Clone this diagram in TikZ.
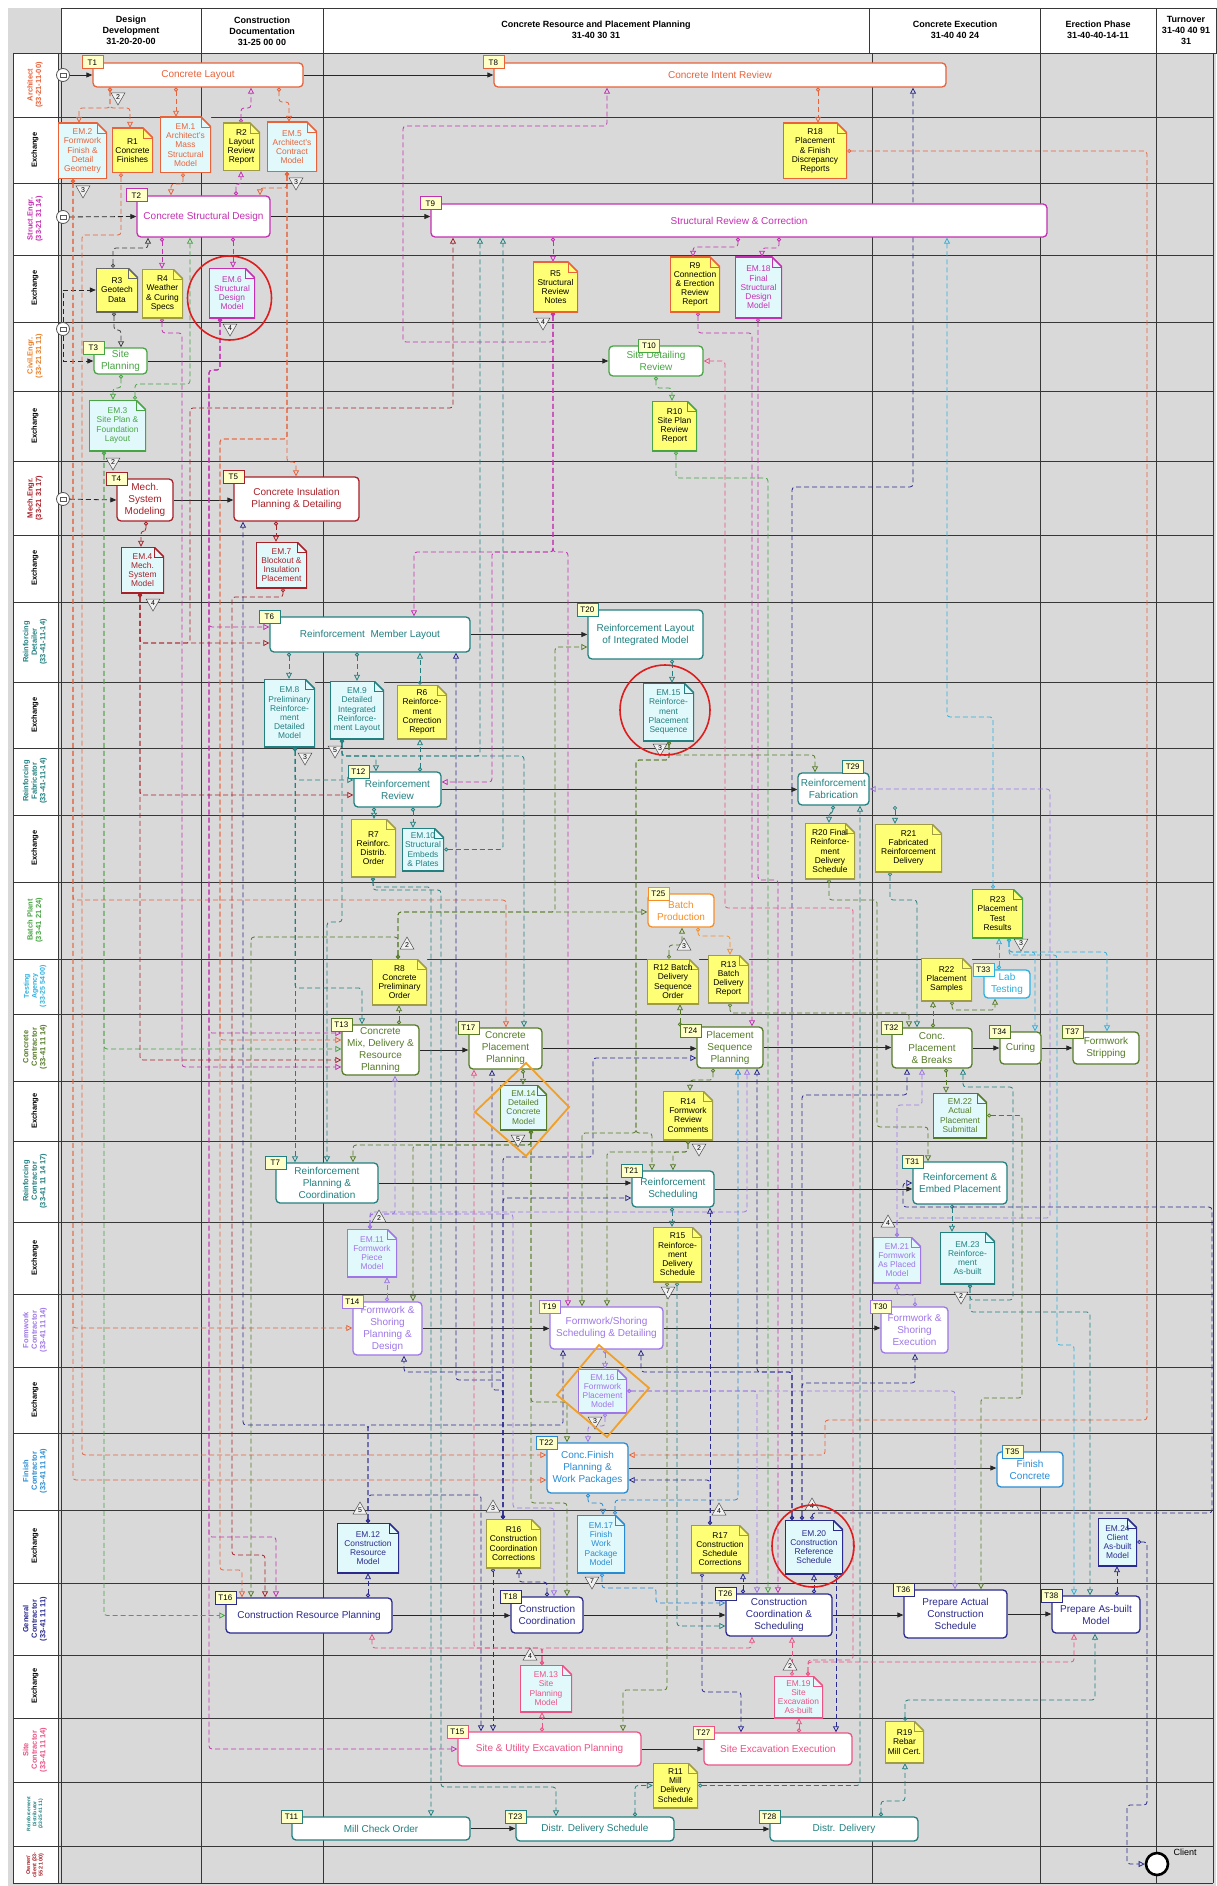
\documentclass[tikz,border=0pt]{standalone}
\usepackage{fontspec}
\setmainfont{Liberation Sans}
\usetikzlibrary{arrows.meta,shapes.geometric}
\pgfdeclarelayer{bg}
\pgfdeclarelayer{lines}
\pgfsetlayers{bg,lines,main}
\definecolor{lanebg}{RGB}{217,217,217}
\definecolor{gridc}{RGB}{55,55,55}
\definecolor{archc}{RGB}{232,98,58}
\definecolor{strc}{RGB}{196,48,178}
\definecolor{civc}{RGB}{72,165,68}
\definecolor{civlab}{RGB}{232,128,40}
\definecolor{mechc}{RGB}{168,32,40}
\definecolor{reic}{RGB}{34,128,128}
\definecolor{batc}{RGB}{245,142,40}
\definecolor{tstc}{RGB}{44,176,222}
\definecolor{conc}{RGB}{86,124,40}
\definecolor{frmc}{RGB}{158,118,232}
\definecolor{finc}{RGB}{40,140,212}
\definecolor{genc}{RGB}{42,42,142}
\definecolor{sitc}{RGB}{236,82,132}
\definecolor{docfill}{RGB}{226,249,252}
\definecolor{yelfill}{RGB}{255,255,118}
\definecolor{tagfill}{RGB}{255,255,200}
\definecolor{rline}{RGB}{160,156,70}
\definecolor{hlred}{RGB}{222,30,30}
\definecolor{hlorange}{RGB}{240,160,40}
\tikzset{
  task/.style={draw=#1, text=#1, fill=white, rounded corners=4pt, line width=1.3pt,
    align=center, inner sep=1pt, font=\fontsize{10}{12}\selectfont},
  tag/.style={draw=#1, fill=tagfill, text=black, line width=0.7pt, inner sep=0pt,
    minimum width=21pt, minimum height=13pt, font=\fontsize{8}{8}\selectfont},
  docshape/.style={rectangle, inner sep=1pt, align=center, font=\fontsize{8.4}{9.2}\selectfont,
    path picture={
      \fill[lanebg] ([xshift=-10pt]path picture bounding box.north east) -- (path picture bounding box.north east) -- ([yshift=-10pt]path picture bounding box.north east) -- cycle;
      \draw[#1, line width=1.6pt] (path picture bounding box.south west) -- (path picture bounding box.north west) -- ([xshift=-10pt]path picture bounding box.north east) -- ([yshift=-10pt]path picture bounding box.north east) -- (path picture bounding box.south east) -- cycle;
      \draw[#1, line width=0.8pt] ([xshift=-10pt]path picture bounding box.north east) |- ([yshift=-10pt]path picture bounding box.north east);
    }},
  em/.style={docshape=#1, fill=docfill, text=#1},
  rep/.style={docshape=#1, fill=yelfill, text=black},
  lanelab/.style={rotate=90, align=center, font=\bfseries\fontsize{7.5}{8.5}\selectfont},
  head/.style={align=center, font=\bfseries\fontsize{9}{11}\selectfont},
  startev/.style={circle, draw=black!65, fill=white, line width=0.8pt, minimum size=13pt, inner sep=0pt,
    path picture={\draw[black!65] ([xshift=-3pt,yshift=-2pt]path picture bounding box.center) rectangle ([xshift=3pt,yshift=2pt]path picture bounding box.center);}},
  endev/.style={circle, draw=black, fill=white, line width=2.6pt, minimum size=22pt, inner sep=0pt},
  mku/.style={regular polygon, regular polygon sides=3, draw=black!70, fill=black!6, line width=0.5pt,
    minimum size=16pt, inner sep=0pt, font=\fontsize{7}{7}\selectfont},
  mkd/.style={mku, shape border rotate=180},
  seq/.style={draw=black!85, line width=0.8pt, -{Triangle[length=6pt,width=5pt]}},
  seqd/.style={seq, dash pattern=on 5pt off 3pt},
  msg/.style={draw=#1, line width=0.8pt, dash pattern=on 5pt off 3pt, rounded corners=3pt,
    {Circle[open,length=4pt,width=4pt]}-{Triangle[open,length=6pt,width=6pt]}},
  grid/.style={draw=gridc, line width=0.8pt},
  hl/.style={draw=hlred, line width=1.6pt},
  hd/.style={draw=hlorange, line width=1.8pt}
}
\begin{document}
\begin{tikzpicture}[x=1pt,y=-1pt]
\useasboundingbox (0,0) rectangle (1217,1886);
\begin{pgfonlayer}{bg}
\fill[lanebg] (8,8) rectangle (1216,1886);
\fill[white] (13,53) rectangle (58,1883);
\filldraw[grid, fill=white] (61,8) rectangle (201,53) (201,8) rectangle (323,53) (323,8) rectangle (869,53)
  (869,8) rectangle (1040,53) (1040,8) rectangle (1156,53) (1156,8) rectangle (1216,53);
\draw[grid] (13,53) -- (1213,53) (13,117) -- (1213,117) (13,183) -- (1213,183) (13,255) -- (1213,255)
  (13,322) -- (1213,322) (13,391) -- (1213,391) (13,461) -- (1213,461) (13,535) -- (1213,535)
  (13,602) -- (1213,602) (13,682) -- (1213,682) (13,748) -- (1213,748) (13,815) -- (1213,815)
  (13,882) -- (1213,882) (13,959) -- (1213,959) (13,1014) -- (1213,1014) (13,1081) -- (1213,1081)
  (13,1141) -- (1213,1141) (13,1222) -- (1213,1222) (13,1294) -- (1213,1294) (13,1367) -- (1213,1367)
  (13,1433) -- (1213,1433) (13,1510) -- (1213,1510) (13,1583) -- (1213,1583) (13,1655) -- (1213,1655)
  (13,1718) -- (1213,1718) (13,1782) -- (1213,1782) (13,1846) -- (1213,1846) (13,1883) -- (1213,1883);
\draw[grid] (13,53) -- (13,1883) (58,53) -- (58,1883) (61,53) -- (61,1883) (201,53) -- (201,1883)
  (323,53) -- (323,1883) (872,53) -- (872,1883) (1040,53) -- (1040,1883) (1156,53) -- (1156,1883)
  (1213,53) -- (1213,1883);
\end{pgfonlayer}

\node[head] (h1) at (131,30) {Design\\Development\\31-20-20-00};
\node[head] (h2) at (262,31) {Construction\\Documentation\\31-25 00 00};
\node[head] (h3) at (596,30) {Concrete Resource and Placement Planning\\31-40 30 31};
\node[head] (h4) at (955,30) {Concrete Execution\\31-40 40 24};
\node[head] (h5) at (1098,30) {Erection Phase\\31-40-40-14-11};
\node[head] (h6) at (1186,30) {Turnover\\31-40 40 91\\31};

\node[lanelab, text=archc] (ln1) at (35,85) {Architect\\(33-21-11-00)};
\node[lanelab] (ln2) at (35,150) {Exchange};
\node[lanelab, text=strc] (ln3) at (35,219) {Struct.Engr.\\(33-21 31 14)};
\node[lanelab] (ln4) at (35,288) {Exchange};
\node[lanelab, text=civlab] (ln5) at (35,356) {Civil.Engr.\\(33-21 31 11)};
\node[lanelab] (ln6) at (35,426) {Exchange};
\node[lanelab, text=mechc] (ln7) at (35,498) {Mech.Engr.\\(33-21 31 17)};
\node[lanelab] (ln8) at (35,568) {Exchange};
\node[lanelab, text=reic] (ln9) at (35,642) {Reinforcing\\Detailer\\(33-41-11-14)};
\node[lanelab] (ln10) at (35,715) {Exchange};
\node[lanelab, text=reic] (ln11) at (35,781) {Reinforcing\\Fabricator\\(33-41-11-14)};
\node[lanelab] (ln12) at (35,848) {Exchange};
\node[lanelab, text=civc] (ln13) at (35,920) {Batch Plant\\(33-41 21 24)};
\node[lanelab, text=tstc, font=\bfseries\fontsize{7}{8}\selectfont] (ln14) at (35,986) {Testing\\Agency\\(33-25 54 00)};
\node[lanelab, text=conc] (ln15) at (35,1047) {Concrete\\Contractor\\(33-41 11 14)};
\node[lanelab] (ln16) at (35,1111) {Exchange};
\node[lanelab, text=reic] (ln17) at (35,1181) {Reinforcing\\Contractor\\(33-41 11 14 17)};
\node[lanelab] (ln18) at (35,1258) {Exchange};
\node[lanelab, text=frmc] (ln19) at (35,1330) {Formwork\\Contractor\\(33-41 11 14)};
\node[lanelab] (ln20) at (35,1400) {Exchange};
\node[lanelab, text=finc] (ln21) at (35,1471) {Finish\\Contractor\\(33-41 11 14)};
\node[lanelab] (ln22) at (35,1546) {Exchange};
\node[lanelab, text=genc] (ln23) at (35,1619) {General\\Contractor\\(33-41 11 11)};
\node[lanelab] (ln24) at (35,1686) {Exchange};
\node[lanelab, text=sitc] (ln25) at (35,1750) {Site\\Contractor\\(33-41 11 14)};
\node[lanelab, text=reic, font=\bfseries\fontsize{5}{5.8}\selectfont] (ln26) at (35,1814) {Reinforcement\\Distributor\\(33-25 41 11)};
\node[lanelab, text=mechc, font=\bfseries\fontsize{5.5}{6.3}\selectfont] (ln27) at (35,1865) {Owner/\\client (33-\\55 21 00)};

\node[task=archc, minimum width=210, minimum height=24] (t1) at (198,75) {Concrete Layout};
\node[task=archc, minimum width=452, minimum height=24] (t8) at (720,75) {Concrete Intent Review};
\node[task=strc, minimum width=133, minimum height=41] (t2) at (203.5,216.5) {Concrete Structural Design};
\node[task=strc, minimum width=616, minimum height=33] (t9) at (739,220.5) {Structural Review \& Correction};
\node[task=civc, minimum width=53, minimum height=26] (t3) at (120.5,361) {Site\\Planning};
\node[task=civc, minimum width=94, minimum height=30] (t10) at (656,361) {Site Detailing\\Review};
\node[task=mechc, minimum width=56, minimum height=42] (t4) at (145,500) {Mech.\\System\\Modeling};
\node[task=mechc, minimum width=125, minimum height=44] (t5) at (296.5,499) {Concrete Insulation\\Planning \& Detailing};
\node[task=reic, minimum width=200, minimum height=35] (t6) at (370,634.5) {Reinforcement\ \ Member Layout};
\node[task=reic, minimum width=115, minimum height=49] (t20) at (645.5,634.5) {Reinforcement Layout\\of Integrated Model};
\node[task=reic, minimum width=87, minimum height=35] (t12) at (397.5,789.5) {Reinforcement\\Review};
\node[task=reic, minimum width=71, minimum height=32] (t29) at (833.5,789) {Reinforcement\\Fabrication};
\node[task=batc, minimum width=66, minimum height=33] (t25) at (681,910.5) {Batch\\Production};
\node[task=tstc, minimum width=46, minimum height=28] (t33) at (1007,984) {Lab\\Testing};
\node[task=conc, minimum width=77, minimum height=50] (t13) at (380.5,1050) {Concrete\\Mix, Delivery \&\\Resource\\Planning};
\node[task=conc, minimum width=73, minimum height=41] (t17) at (505.5,1048.5) {Concrete\\Placement\\Planning};
\node[task=conc, minimum width=66, minimum height=41] (t24) at (730,1047.5) {Placement\\Sequence\\Planning};
\node[task=conc, minimum width=80, minimum height=40] (t32) at (932,1048) {Conc.\\Placement\\\& Breaks};
\node[task=conc, minimum width=41, minimum height=32] (t34) at (1020.5,1048) {Curing};
\node[task=conc, minimum width=66, minimum height=32] (t37) at (1106,1048) {Formwork\\Stripping};
\node[task=reic, minimum width=102, minimum height=40] (t7) at (327,1183) {Reinforcement\\Planning \&\\Coordination};
\node[task=reic, minimum width=82, minimum height=36] (t21) at (673,1189) {Reinforcement\\Scheduling};
\node[task=reic, minimum width=94, minimum height=42] (t31) at (960,1183) {Reinforcement \&\\Embed Placement};
\node[task=frmc, minimum width=69, minimum height=53] (t14) at (387.5,1328.5) {Formwork \&\\Shoring\\Planning \&\\Design};
\node[task=frmc, minimum width=113, minimum height=42] (t19) at (606.5,1328) {Formwork/Shoring\\Scheduling \& Detailing};
\node[task=frmc, minimum width=67, minimum height=46] (t30) at (914.5,1330) {Formwork \&\\Shoring\\Execution};
\node[task=finc, minimum width=81, minimum height=50] (t22) at (587.5,1468) {Conc.Finish\\Planning \&\\Work Packages};
\node[task=finc, minimum width=66, minimum height=35] (t35) at (1030,1469.5) {Finish\\Concrete};
\node[task=genc, minimum width=166, minimum height=35] (t16) at (309,1615.5) {Construction Resource Planning};
\node[task=genc, minimum width=72, minimum height=36] (t18) at (547,1615) {Construction\\Coordination};
\node[task=genc, minimum width=106, minimum height=42] (t26) at (779,1615) {Construction\\Coordination \&\\Scheduling};
\node[task=genc, minimum width=103, minimum height=48] (t36) at (955.5,1614) {Prepare Actual\\Construction\\Schedule};
\node[task=genc, minimum width=88, minimum height=37] (t38) at (1096,1614.5) {Prepare As-built\\Model};
\node[task=sitc, minimum width=183, minimum height=34] (t15) at (549.5,1749) {Site \& Utility Excavation Planning};
\node[task=sitc, minimum width=148, minimum height=32] (t27) at (778,1749) {Site Excavation Execution};
\node[task=reic, minimum width=178, minimum height=23] (t11) at (381,1828.5) {Mill Check Order};
\node[task=reic, minimum width=158, minimum height=24] (t23) at (595,1829) {Distr. Delivery Schedule};
\node[task=reic, minimum width=148, minimum height=24] (t28) at (844,1829) {Distr. Delivery};

\node[tag=archc] (t1n) at (t1.north west) {T1};
\node[tag=archc] (t8n) at (t8.north west) {T8};
\node[tag=strc] (t2n) at (t2.north west) {T2};
\node[tag=strc] (t9n) at (t9.north west) {T9};
\node[tag=civc] (t3n) at (t3.north west) {T3};
\node[tag=civc] (t10n) at ([xshift=-7pt]t10.north) {T10};
\node[tag=mechc] (t4n) at (t4.north west) {T4};
\node[tag=mechc] (t5n) at (t5.north west) {T5};
\node[tag=reic] (t6n) at (t6.north west) {T6};
\node[tag=reic] (t20n) at (t20.north west) {T20};
\node[tag=reic] (t12n) at ([xshift=5pt]t12.north west) {T12};
\node[tag=reic] (t29n) at ([xshift=-17pt,yshift=6pt]t29.north east) {T29};
\node[tag=batc] (t25n) at ([xshift=11pt]t25.north west) {T25};
\node[tag=tstc] (t33n) at (t33.north west) {T33};
\node[tag=conc] (t13n) at (t13.north west) {T13};
\node[tag=conc] (t17n) at (t17.north west) {T17};
\node[tag=conc] (t24n) at ([xshift=-6pt,yshift=-4pt]t24.north west) {T24};
\node[tag=conc] (t32n) at (t32.north west) {T32};
\node[tag=conc] (t34n) at (t34.north west) {T34};
\node[tag=conc] (t37n) at (t37.north west) {T37};
\node[tag=reic] (t7n) at (t7.north west) {T7};
\node[tag=reic] (t21n) at (t21.north west) {T21};
\node[tag=reic] (t31n) at (t31.north west) {T31};
\node[tag=frmc] (t14n) at (t14.north west) {T14};
\node[tag=frmc] (t19n) at (t19.north west) {T19};
\node[tag=frmc] (t30n) at (t30.north west) {T30};
\node[tag=finc] (t22n) at (t22.north west) {T22};
\node[tag=finc] (t35n) at ([xshift=16pt]t35.north west) {T35};
\node[tag=genc] (t16n) at (t16.north west) {T16};
\node[tag=genc] (t18n) at (t18.north west) {T18};
\node[tag=genc] (t26n) at (t26.north west) {T26};
\node[tag=genc] (t36n) at (t36.north west) {T36};
\node[tag=genc] (t38n) at (t38.north west) {T38};
\node[tag=sitc] (t15n) at (t15.north west) {T15};
\node[tag=sitc] (t27n) at (t27.north west) {T27};
\node[tag=reic] (t11n) at (t11.north west) {T11};
\node[tag=reic] (t23n) at (t23.north west) {T23};
\node[tag=reic] (t28n) at (t28.north west) {T28};

\node[em=archc, minimum width=49, minimum height=56] (em2) at (82.5,151) {EM.2\\Formwork\\Finish \&\\Detail\\Geometry};
\node[rep=archc, minimum width=41, minimum height=45] (r1) at (132.5,150.5) {R1\\Concrete\\Finishes};
\node[em=archc, minimum width=51, minimum height=56] (em1) at (185.5,145) {EM.1\\Architect's\\Mass\\Structural\\Model};
\node[rep=rline, minimum width=37, minimum height=48] (r2) at (241.5,147) {R2\\Layout\\Review\\Report};
\node[em=archc, minimum width=50, minimum height=50] (em5) at (292,147) {EM.5\\Architect's\\Contract\\Model};
\node[rep=archc, minimum width=64, minimum height=56] (r18) at (815,151) {R18\\Placement\\\& Finish\\Discrepancy\\Reports};
\node[rep=black!60, minimum width=42, minimum height=44] (r3) at (117,290) {R3\\Geotech\\Data};
\node[rep=rline, minimum width=41, minimum height=49] (r4) at (162.5,293.5) {R4\\Weather\\\& Curing\\Specs};
\node[em=strc, minimum width=46, minimum height=50] (em6) at (232,293) {EM.6\\Structural\\Design\\Model};
\node[rep=archc, minimum width=45, minimum height=50] (r5) at (555.5,287) {R5\\Structural\\Review\\Notes};
\node[rep=archc, minimum width=50, minimum height=55] (r9) at (695,284.5) {R9\\Connection\\\& Erection\\Review\\Report};
\node[em=strc, minimum width=47, minimum height=61] (em18) at (758.5,287.5) {EM.18\\Final\\Structural\\Design\\Model};
\node[em=civc, minimum width=57, minimum height=51] (em3) at (117.5,425.5) {EM.3\\Site Plan \&\\Foundation\\Layout};
\node[rep=civc, minimum width=45, minimum height=50] (r10) at (674.5,426) {R10\\Site Plan\\Review\\Report};
\node[em=mechc, minimum width=43, minimum height=46] (em4) at (142.5,570) {EM.4\\Mech.\\System\\Model};
\node[em=mechc, minimum width=51, minimum height=46] (em7) at (281.5,565) {EM.7\\Blockout \&\\Insulation\\Placement};
\node[em=reic, minimum width=51, minimum height=68] (em8) at (289.5,713) {EM.8\\Preliminary\\Reinforce-\\ment\\Detailed\\Model};
\node[em=reic, minimum width=54, minimum height=58] (em9) at (357,710) {EM.9\\Detailed\\Integrated\\Reinforce-\\ment Layout};
\node[rep=rline, minimum width=50, minimum height=54] (r6) at (422,712) {R6\\Reinforce-\\ment\\Correction\\Report};
\node[em=reic, minimum width=51, minimum height=58] (em15) at (668.5,712) {EM.15\\Reinforce-\\ment\\Placement\\Sequence};
\node[rep=rline, minimum width=45, minimum height=58] (r7) at (373.5,848) {R7\\Reinforc.\\Distrib.\\Order};
\node[em=reic, minimum width=42, minimum height=43] (em10) at (423,849.5) {EM.10\\Structural\\Embeds\\\& Plates};
\node[rep=rline, minimum width=50, minimum height=56] (r20) at (830,851) {R20 Final\\Reinforce-\\ment\\Delivery\\Schedule};
\node[rep=rline, minimum width=67, minimum height=48] (r21) at (908.5,848) {R21\\Fabricated\\Reinforcement\\Delivery};
\node[rep=civc, minimum width=51, minimum height=49] (r23) at (997.5,913.5) {R23\\Placement\\Test\\Results};
\node[rep=rline, minimum width=55, minimum height=46] (r8) at (399.5,982) {R8\\Concrete\\Preliminary\\Order};
\node[rep=rline, minimum width=52, minimum height=45] (r12) at (673,981.5) {R12 Batch\\Delivery\\Sequence\\Order};
\node[rep=rline, minimum width=41, minimum height=48] (r13) at (728.5,979) {R13\\Batch\\Delivery\\Report};
\node[rep=rline, minimum width=51, minimum height=43] (r22) at (946.5,979.5) {R22\\Placement\\Samples};
\node[em=conc, minimum width=47, minimum height=45] (em14) at (523.5,1107.5) {EM.14\\Detailed\\Concrete\\Model};
\node[rep=rline, minimum width=50, minimum height=49] (r14) at (688,1115.5) {R14\\Formwork\\Review\\Comments};
\node[em=conc, minimum width=54, minimum height=45] (em22) at (960,1115.5) {EM.22\\Actual\\Placement\\Submittal};
\node[em=frmc, minimum width=50, minimum height=48] (em11) at (372,1253) {EM.11\\Formwork\\Piece\\Model};
\node[rep=rline, minimum width=49, minimum height=55] (r15) at (677.5,1254.5) {R15\\Reinforce-\\ment\\Delivery\\Schedule};
\node[em=frmc, minimum width=48, minimum height=46] (em21) at (897,1260) {EM.21\\Formwork\\As Placed\\Model};
\node[em=reic, minimum width=55, minimum height=52] (em23) at (967.5,1258) {EM.23\\Reinforce-\\ment\\As-built};
\node[em=frmc, minimum width=49, minimum height=44] (em16) at (602.5,1391) {EM.16\\Formwork\\Placement\\Model};
\node[em=genc, minimum width=62, minimum height=50] (em12) at (368,1548) {EM.12\\Construction\\Resource\\Model};
\node[rep=rline, minimum width=55, minimum height=49] (r16) at (513.5,1543.5) {R16\\Construction\\Coordination\\Corrections};
\node[em=finc, minimum width=48, minimum height=58] (em17) at (601,1544) {EM.17\\Finish\\Work\\Package\\Model};
\node[rep=rline, minimum width=58, minimum height=48] (r17) at (720,1549) {R17\\Construction\\Schedule\\Corrections};
\node[em=genc, minimum width=58, minimum height=54] (em20) at (814,1547) {EM.20\\Construction\\Reference\\Schedule};
\node[em=genc, minimum width=39, minimum height=48] (em24) at (1117.5,1542) {EM.24\\Client\\As-built\\Model};
\node[em=sitc, minimum width=52, minimum height=47] (em13) at (546,1688.5) {EM.13\\Site\\Planning\\Model};
\node[em=sitc, minimum width=49, minimum height=42] (em19) at (798.5,1697) {EM.19\\Site\\Excavation\\As-built};
\node[rep=rline, minimum width=39, minimum height=42] (r19) at (904.5,1742) {R19\\Rebar\\Mill Cert.};
\node[rep=rline, minimum width=45, minimum height=45] (r11) at (675.5,1785.5) {R11\\Mill\\Delivery\\Schedule};

\node[startev] (s1) at (63,75) {};
\node[startev] (s2) at (63,217) {};
\node[startev] (s3) at (63,329) {};
\node[startev] (s4) at (63,499) {};
\node[endev] (client) at (1157,1864) {};
\node[font=\fontsize{9}{9}\selectfont] (clientlab) at (1185,1852) {Client};
\coordinate (r21in) at (895,806);

\node[mkd] (m1) at (118,97) {2};
\node[mkd] (m2) at (83,190) {3};
\node[mkd] (m3) at (296,182) {3};
\node[mkd] (m4) at (230,328) {4};
\node[mkd] (m5) at (543,322) {4};
\node[mkd] (m6) at (113,462) {2};
\node[mkd] (m7) at (153,603) {4};
\node[mkd] (m8) at (305,757) {3};
\node[mkd] (m9) at (335,750) {5};
\node[mkd] (m10) at (660,748) {3};
\node[mku] (m11) at (407,945) {2};
\node[mku] (m12) at (684,946) {3};
\node[mkd] (m13) at (1021,943) {3};
\node[mkd] (m14) at (518,1139) {5};
\node[mkd] (m15) at (699,1148) {2};
\node[mku] (m16) at (379,1218) {2};
\node[mkd] (m17) at (668,1291) {7};
\node[mku] (m18) at (888,1223) {4};
\node[mkd] (m19) at (961,1296) {2};
\node[mkd] (m20) at (595,1421) {3};
\node[mku] (m21) at (360,1510) {5};
\node[mku] (m22) at (493,1508) {3};
\node[mkd] (m23) at (592,1581) {7};
\node[mku] (m24) at (719,1511) {4};
\node[mku] (m25) at (812,1506) {4};
\node[mku] (m26) at (530,1656) {4};
\node[mku] (m27) at (790,1666) {2};

\begin{pgfonlayer}{lines}
\draw[seq] (s1) -- (t1.west);
\draw[seq] (t1.east) -- (t8.west);
\draw[seq] (t2.east) -- (t2.east -| t9.west);
\draw[seq] (t3.east) -- (t10.west);
\draw[seq] (t4.east) -- (t4.east -| t5.west);
\draw[seq] (t6.east) -- (t20.west);
\draw[seq] (t12.east) -- (t12.east -| t29.west);
\draw[seq] (t13.east) -- (t13.east -| t17.west);
\draw[seq] (t17.east) -- (t17.east -| t24.west);
\draw[seq] (t24.east) -- (t24.east -| t32.west);
\draw[seq] (t32.east) -- (t34.west);
\draw[seq] (t34.east) -- (t37.west);
\draw[seq] (t7.east) -- (t7.east -| t21.west);
\draw[seq] (t21.east) -- (t21.east -| t31.west);
\draw[seq] (t14.east) -- (t14.east -| t19.west);
\draw[seq] (t19.east) -- (t19.east -| t30.west);
\draw[seq] (t22.east) -- (t22.east -| t35.west);
\draw[seq] (t16.east) -- (t16.east -| t18.west);
\draw[seq] (t18.east) -- (t18.east -| t26.west);
\draw[seq] (t26.east) -- (t26.east -| t36.west);
\draw[seq] (t36.east) -- (t36.east -| t38.west);
\draw[seq] (t15.east) -- (t15.east -| t27.west);
\draw[seq] (t11.east) -- (t11.east -| t23.west);
\draw[seq] (t23.east) -- (t23.east -| t28.west);
\draw[seqd] (s2) -- (t2.west);
\draw[seqd] (s3) |- (t3.west);
\draw[seqd] (s3) |- (r3.west);
\draw[seqd] (s4) -- (t4.west);
\draw[msg=black!75] (113,0 |- r3.north) |- (148,248) -- (148,0 |- t2.south);
\draw[msg=black!75] (114,0 |- r3.south) |- (121,330) -- (121,0 |- t3.north);

\draw[msg=archc] (110,0 |- t1.south) |- (79,108) -- (79,0 |- em2.north);
\draw[msg=archc] (110,0 |- t1.south) |- (130,108) -- (130,0 |- r1.north);
\draw[msg=archc] (176,0 |- t1.south) -- (176,0 |- em1.north);
\draw[msg=archc] (279,0 |- t1.south) |- (289,102) -- (289,0 |- em5.north);
\draw[msg=archc] (818,0 |- t8.south) -- (818,0 |- r18.north);
\draw[msg=archc] (183,0 |- em1.south) |- (171,184) -- (171,0 |- t2.north);
\draw[msg=archc] (287,0 |- em5.south) |- (260,188) -- (260,0 |- t2.north);
\draw[msg=archc] (287,0 |- em5.south) -- (287,462) -| (296,0 |- t5.north);
\draw[msg=archc] (287,0 |- em5.south) |- (220,439) -- (220,1570) -| (242,0 |- t16.north);
\draw[msg=archc] (287,0 |- em5.south) |- (220,439) |- (t13.west |- 0,1040);
\draw[msg=archc] (r18.east) -| (1147,1420) -| (825,1455) -- (t22.east |- 0,1455);
\draw[msg=archc] (73,0 |- em2.south) -- (73,1480) -- (t22.west |- 0,1480);
\draw[msg=archc] (73,0 |- em2.south) |- (t14.west |- 0,1328);
\draw[msg=archc] (73,0 |- em2.south) |- (506,900) -- (506,0 |- t17.north);
\draw[msg=archc] (121,0 |- r1.south) |- (82,235) -- (82,1455) -- (t22.west |- 0,1455);

\draw[msg=strc] (241,0 |- r2.north) |- (251,108) -- (251,0 |- t1.south);
\draw[msg=strc] (236,0 |- t2.north) |- (241,184) -- (241,0 |- r2.south);
\draw[msg=strc] (233,0 |- t2.south) -- (233,0 |- em6.north);
\draw[msg=strc] (162,0 |- t2.south) -- (162,0 |- r4.north);
\draw[msg=strc] (162,0 |- r4.south) |- (182,333) |- (t13.west |- 0,1067);
\draw[msg=strc] (220,0 |- em6.south) |- (209,370) |- (t6.west |- 0,627);
\draw[msg=strc] (220,0 |- em6.south) |- (209,370) |- (t13.west |- 0,1033);
\draw[msg=strc] (220,0 |- em6.south) |- (209,370) |- (276,1537) -- (276,0 |- t16.north);
\draw[msg=strc] (220,0 |- em6.south) |- (209,370) |- (t15.west);
\draw[msg=strc] (553,0 |- t9.south) -- (553,0 |- r5.north);
\draw[msg=strc] (553,0 |- r5.south) |- (403,342) |- (607,126) -- (607,0 |- t8.south);
\draw[msg=strc] (553,0 |- r5.south) |- (414,552) -- (414,0 |- t6.north);
\draw[msg=strc] (553,0 |- r5.south) |- (492,552) |- (t12.east |- 0,782);
\draw[msg=strc] (553,0 |- r5.south) |- (568,552) -- (568,0 |- t19.north);
\draw[msg=strc] (738,0 |- t9.south) |- (693,247) -- (693,0 |- r9.north);
\draw[msg=strc] (779,0 |- t9.south) |- (762,248) -- (762,0 |- em18.north);
\draw[msg=strc] (698,0 |- r9.south) |- (752,333) -- (752,0 |- t24.north);
\draw[msg=strc] (758,0 |- em18.south) |- (778,880) -- (778,0 |- t26.north);

\draw[msg=civc] (121,0 |- t3.south) |- (113,388) -- (113,0 |- em3.north);
\draw[msg=civc] (135,0 |- em3.north) |- (190,384) -- (190,0 |- t2.south);
\draw[msg=civc] (104,0 |- em3.south) |- (t13.west |- 0,1049);
\draw[msg=civc] (104,0 |- em3.south) |- (t16.west);
\draw[msg=civc] (656,0 |- t10.south) |- (672,388) -- (672,0 |- r10.north);
\draw[msg=civc] (676,0 |- r10.south) |- (768,478) -- (768,0 |- t26.north);

\draw[msg=mechc] (146,0 |- t4.south) |- (141,531) -- (141,0 |- em4.north);
\draw[msg=mechc] (276,0 |- t5.south) -- (276,0 |- em7.north);
\draw[msg=mechc] (140,0 |- em4.south) |- (t6.west |- 0,643);
\draw[msg=mechc] (140,0 |- em4.south) |- (t12.west |- 0,795);
\draw[msg=mechc] (140,0 |- em4.south) |- (t13.west |- 0,1060);
\draw[msg=mechc] (140,0 |- em4.south) |- (190,643) |- (453,408) -- (453,0 |- t9.south);
\draw[msg=mechc] (283,0 |- em7.south) |- (232,597) |- (265,1555) -- (265,0 |- t16.north);

\draw[msg=reic] (289,0 |- t6.south) -- (289,0 |- em8.north);
\draw[msg=reic] (357,0 |- t6.south) -- (357,0 |- em9.north);
\draw[msg=reic] (420,0 |- r6.north) -- (420,0 |- t6.south);
\draw[msg=reic] (420,0 |- t12.north) -- (420,0 |- r6.south);
\draw[msg=reic] (374,0 |- t12.south) -- (374,0 |- r7.north);
\draw[msg=reic] (413,0 |- t12.south) -- (413,0 |- em10.north);
\draw[msg=reic] (295,0 |- em8.south) -- (295,0 |- t7.north);
\draw[msg=reic] (295,0 |- em8.south) |- (t12.west |- 0,780);
\draw[msg=reic] (295,0 |- em8.south) |- (362,988) -- (362,0 |- t13.north);
\draw[msg=reic] (342,0 |- em9.south) |- (327,922) -- (327,0 |- t7.north);
\draw[msg=reic] (342,0 |- em9.south) |- (376,756) -- (376,0 |- t12.north);
\draw[msg=reic] (342,0 |- em9.south) |- (480,756) -- (480,0 |- t9.south);
\draw[msg=reic] (342,0 |- em9.south) |- (524,756) -- (524,0 |- t17.north);
\draw[msg=reic] (em10.east) -| (503,0 |- t9.south);
\draw[msg=reic] (672,0 |- t20.south) -- (672,0 |- em15.north);
\draw[msg=reic] (373,0 |- r7.south) |- (431,887) -- (431,0 |- t11.north);
\draw[msg=reic] (373,0 |- r7.south) |- (441,890) |- (556,1787) -- (556,0 |- t23.north);
\draw[msg=reic] (833,0 |- t29.south) |- (829,813) -- (829,0 |- r20.north);
\draw[msg=reic] (r21in) -- (895,0 |- r21.north);
\draw[msg=reic] (672,0 |- t21.south) -- (672,0 |- r15.north);
\draw[msg=reic] (677,0 |- r15.south) |- (t26.west |- 0,1626);
\draw[msg=reic] (952,0 |- t31.south) -- (952,0 |- em23.north);
\draw[msg=reic] (970,0 |- em23.south) |- (1013,1300) |- (963,1087) -- (963,0 |- t32.south);
\draw[msg=reic] (970,0 |- em23.south) |- (1090,1312) -- (1090,0 |- t38.north);
\draw[msg=reic] (r11.east) -| (860,0 |- t29.south);
\draw[msg=reic] (635,0 |- t23.north) |- (r11.west);
\draw[msg=reic] (881,0 |- t28.north) |- (905,1801) -- (905,0 |- r19.south);
\draw[msg=reic] (905,0 |- r19.north) |- (1095,1700) -- (1095,0 |- t38.south);
\draw[msg=reic] (890,0 |- r21.south) |- (917,900) -- (917,0 |- t32.north);

\draw[msg=conc] (669,0 |- em15.south) |- (815,755) -- (815,0 |- t29.north);
\draw[msg=conc] (669,0 |- em15.south) |- (636,760) |- (652,1133) -- (652,0 |- t21.north);
\draw[msg=conc] (669,0 |- em15.south) |- (636,760) |- (582,1133) -- (582,0 |- t19.north);
\draw[msg=conc] (399,0 |- t13.north) -- (399,0 |- r8.south);
\draw[msg=conc] (398,0 |- r8.north) |- (t25.west |- 0,912);
\draw[msg=conc] (398,0 |- r8.north) |- (555,912) |- (t20.west |- 0,647);
\draw[msg=conc] (398,0 |- r8.north) |- (251,937) -- (251,0 |- t16.north);
\draw[msg=conc] (669,0 |- r12.north) |- (682,945) -- (682,0 |- t25.south);
\draw[msg=conc] (680,0 |- t24.north) -- (680,0 |- r12.south);
\draw[msg=conc] (523,0 |- t17.south) -- (523,0 |- em14.north);
\draw[msg=conc] (531,0 |- em14.south) |- (353,1145) -- (353,0 |- t7.north);
\draw[msg=conc] (531,0 |- em14.south) |- (413,1145) -- (413,0 |- t14.north);
\draw[msg=conc] (531,0 |- em14.south) |- (567,1402) -- (567,0 |- t22.north);
\draw[msg=conc] (531,0 |- em14.south) |- (567,1503) -- (567,0 |- t18.north);
\draw[msg=conc] (713,0 |- t24.south) |- (690,1080) -- (690,0 |- r14.north);
\draw[msg=conc] (688,0 |- r14.south) |- (673,1152) -- (673,0 |- t21.north);
\draw[msg=conc] (688,0 |- r14.south) |- (607,1152) -- (607,0 |- t19.north);
\draw[msg=conc] (730,0 |- r13.south) |- (909,1013) -- (909,0 |- t32.north);
\draw[msg=conc] (933,0 |- t32.north) -- (933,0 |- r22.south);
\draw[msg=conc] (952,0 |- r22.south) |- (995,1010) -- (995,0 |- t33.south);
\draw[msg=conc] (946,0 |- t32.south) -- (946,0 |- em22.north);
\draw[msg=conc] (em22.east) -| (1022,1398) -| (981,0 |- t36.north);
\draw[msg=conc] (667,0 |- r15.south) |- (623,1690) -- (623,0 |- t15.north);
\draw[msg=conc] (829,0 |- r20.south) |- (877,900) |- (928,1127) -- (928,0 |- t31.north);

\draw[msg=batc] (698,0 |- t25.south) |- (730,936) -- (730,0 |- r13.north);

\draw[msg=tstc] (993,0 |- r23.north) |- (947,717) -- (947,0 |- t9.south);
\draw[msg=tstc] (999,0 |- t33.north) -- (999,0 |- r23.south);
\draw[msg=tstc] (1009,0 |- r23.south) |- (1035,952) -- (1035,0 |- t34.north);
\draw[msg=tstc] (1009,0 |- r23.south) |- (1107,952) -- (1107,0 |- t37.north);
\draw[msg=tstc] (1009,0 |- r23.south) |- (1057,955) -- (1057,1345) -| (1074,0 |- t38.north);

\draw[msg=frmc] (387,0 |- t14.north) -- (387,0 |- em11.south);
\draw[msg=frmc] (370,0 |- em11.north) |- (395,1214) -- (395,0 |- t13.south);
\draw[msg=frmc] (370,0 |- em11.north) |- (513,1214) |- (554,1508) -- (554,0 |- t18.north);
\draw[msg=frmc] (370,0 |- em11.north) |- (747,1212) -- (747,0 |- t24.south);
\draw[msg=frmc] (605,0 |- t19.south) -- (605,0 |- em16.north);
\draw[msg=frmc] (605,0 |- em16.south) |- (588,1426) -- (588,0 |- t22.north);
\draw[msg=frmc] (em16.east) -| (757,0 |- t26.north);
\draw[msg=frmc] (em16.east) -| (955,0 |- t36.north);
\draw[msg=frmc] (915,0 |- t30.north) |- (897,1295) -- (897,0 |- em21.south);
\draw[msg=frmc] (897,0 |- em21.north) |- (1050,1218) |- (t29.east);
\draw[msg=frmc] (897,0 |- em21.north) -- (897,1105) -| (922,0 |- t32.south);

\draw[msg=finc] (588,0 |- t22.south) |- (603,1503) -- (603,0 |- em17.north);
\draw[msg=finc] (602,0 |- em17.south) |- (656,1588) |- (t26.west |- 0,1603);
\draw[msg=finc] (615,0 |- em17.north) |- (738,1500) -- (738,0 |- t24.south);

\draw[msg=genc] (368,0 |- t16.north) -- (368,0 |- em12.south);
\draw[msg=genc] (368,0 |- em12.north) |- (243,1425) -- (243,0 |- t5.south);
\draw[msg=genc] (368,0 |- em12.north) |- (563,1425) -- (563,0 |- t19.south);
\draw[msg=genc] (368,0 |- em12.north) |- (481,1495) -- (481,0 |- t15.north);
\draw[msg=genc] (493,0 |- r16.south) -- (493,0 |- t15.north);
\draw[msg=genc] (547,0 |- t18.north) |- (519,1582) -- (519,0 |- r16.south);
\draw[msg=genc] (503,0 |- r16.north) |- (404,1372) -- (404,0 |- t14.south);
\draw[msg=genc] (503,0 |- r16.north) -- (503,1390) -| (492,0 |- t17.south);
\draw[msg=genc] (503,0 |- r16.north) -- (503,1380) -| (456,0 |- t6.south);
\draw[msg=genc] (503,0 |- r16.north) -- (503,1157) -| (593,1058) -- (t24.west |- 0,1058);
\draw[msg=genc] (503,0 |- r16.north) |- (t21.west |- 0,1198);
\draw[msg=genc] (743,0 |- t26.north) -- (743,0 |- r17.south);
\draw[msg=genc] (702,0 |- r17.south) |- (741,1692) -- (741,0 |- t27.north);
\draw[msg=genc] (710,0 |- r17.north) -- (710,0 |- t21.south);
\draw[msg=genc] (710,0 |- r17.north) |- (t22.east |- 0,1480);
\draw[msg=genc] (814,0 |- t26.north) -- (814,0 |- em20.south);
\draw[msg=genc] (792,0 |- em20.north) |- (913,487) -- (913,0 |- t8.south);
\draw[msg=genc] (792,0 |- em20.north) |- (757,1372) -- (757,0 |- t24.south);
\draw[msg=genc] (792,0 |- em20.north) |- (641,1372) -- (641,0 |- t19.south);
\draw[msg=genc] (802,0 |- em20.north) |- (915,1383) -- (915,0 |- t30.south);
\draw[msg=genc] (802,0 |- em20.north) |- (907,1095) -- (907,0 |- t32.south);
\draw[msg=genc] (812,0 |- em20.north) |- (1212,1513) |- (903,1207) |- (t31.west);
\draw[msg=genc] (836,0 |- em20.south) -- (836,0 |- t27.north);
\draw[msg=genc] (1117,0 |- t38.north) -- (1117,0 |- em24.south);
\draw[msg=genc] (em24.east) -| (1147,1805) -| (1127,1864) -- (client.west);

\draw[msg=sitc] (542,0 |- t15.north) -- (542,0 |- em13.south);
\draw[msg=sitc] (542,0 |- em13.north) |- (372,1648) -- (372,0 |- t16.south);
\draw[msg=sitc] (542,0 |- em13.north) |- (474,1648) -- (474,0 |- t17.south);
\draw[msg=sitc] (542,0 |- em13.north) |- (752,1648) -- (752,0 |- t26.south);
\draw[msg=sitc] (799,0 |- t27.north) -- (799,0 |- em19.south);
\draw[msg=sitc] (792,0 |- em19.north) -- (792,0 |- t26.south);
\draw[msg=sitc] (808,0 |- em19.north) |- (1074,1662) -- (1074,0 |- t38.south);
\draw[msg=sitc] (808,0 |- em19.north) |- (853,1660) -- (853,908) -| (725,0 |- t10.east) -- (t10.east);
\end{pgfonlayer}

\draw[hl] (229.5,298) circle (42pt);
\draw[hl] (665,710) circle (45pt);
\draw[hl] (813,1546) circle (41pt);
\draw[hd] (526,1063) -- (569,1107) -- (526,1156) -- (475,1112) -- cycle;
\draw[hd] (599,1345) -- (649,1388) -- (607,1437) -- (557,1395) -- cycle;
\end{tikzpicture}
\end{document}
